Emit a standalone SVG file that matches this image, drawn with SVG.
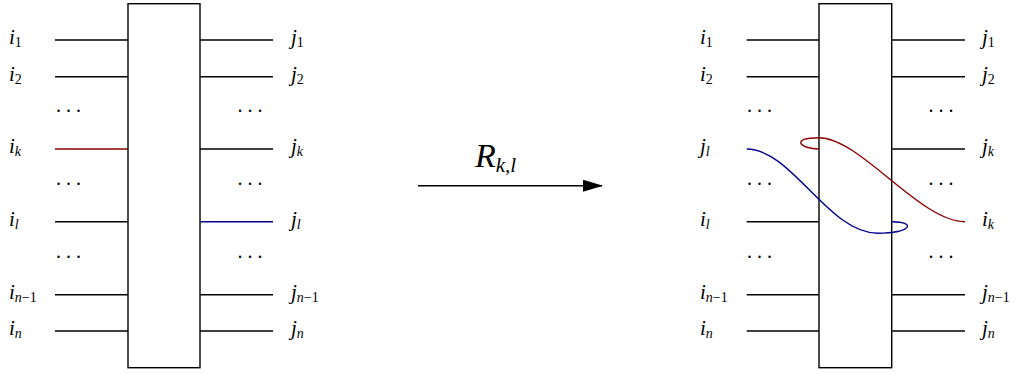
<svg xmlns="http://www.w3.org/2000/svg" width="1032" height="374" viewBox="0 0 1032 374">
<style>
.box{fill:#fff;stroke:#000;stroke-width:1.4}
.w{stroke:#000;stroke-width:1.4;fill:none}
.r{stroke:#8b0000;stroke-width:1.4;fill:none}
.b{stroke:#00008b;stroke-width:1.4;fill:none}
text,tspan{font-family:"Liberation Serif","Times New Roman",serif;fill:#000}
.m{font-style:italic;font-size:21px}
.s{font-size:14px;font-style:normal}
.si{font-size:14px;font-style:italic}
.d{font-size:20px;text-anchor:middle}
</style>
<defs>
<marker id="ah" markerWidth="20" markerHeight="12" refX="19" refY="6" orient="auto" markerUnits="userSpaceOnUse">
<path d="M0,0 L20,6 L0,12 Z" fill="#000"/>
</marker>
</defs>
<g id="connectors">
<line class="w" x1="55" y1="40" x2="128" y2="40"/>
<line class="w" x1="55" y1="76.7" x2="128" y2="76.7"/>
<line class="r" x1="55" y1="149" x2="128" y2="149"/>
<line class="w" x1="55" y1="221.7" x2="128" y2="221.7"/>
<line class="w" x1="55" y1="294.7" x2="128" y2="294.7"/>
<line class="w" x1="55" y1="331" x2="128" y2="331"/>
<line class="w" x1="200" y1="40" x2="273" y2="40"/>
<line class="w" x1="200" y1="76.7" x2="273" y2="76.7"/>
<line class="w" x1="200" y1="149" x2="273" y2="149"/>
<line class="b" x1="200" y1="221.7" x2="273" y2="221.7"/>
<line class="w" x1="200" y1="294.7" x2="273" y2="294.7"/>
<line class="w" x1="200" y1="331" x2="273" y2="331"/>
<line class="w" x1="746.7" y1="40" x2="819" y2="40"/>
<line class="w" x1="746.7" y1="76.7" x2="819" y2="76.7"/>
<line class="w" x1="746.7" y1="221.7" x2="819" y2="221.7"/>
<line class="w" x1="746.7" y1="294.7" x2="819" y2="294.7"/>
<line class="w" x1="746.7" y1="331" x2="819" y2="331"/>
<line class="w" x1="891.7" y1="40" x2="965" y2="40"/>
<line class="w" x1="891.7" y1="76.7" x2="965" y2="76.7"/>
<line class="w" x1="891.7" y1="149" x2="965" y2="149"/>
<line class="w" x1="891.7" y1="294.7" x2="965" y2="294.7"/>
<line class="w" x1="891.7" y1="331" x2="965" y2="331"/>
<path class="w" d="M418,185.7 L602,185.7" marker-end="url(#ah)"/>
</g>
<g id="box-left"><rect class="box" x="128" y="3.7" width="72" height="364"/></g>
<g id="box-right">
<rect class="box" x="819" y="3.7" width="72.7" height="364"/>
</g>
<g id="twisted-wires">
<path class="r" d="M819,149 C800,149 790,137.7 819,137.7 C860,137.7 920,221.7 965,221.7"/>
<path class="b" d="M746.7,149 C792,149 828,233.3 878,233.3 C910,233.3 918,222 891.7,221.7"/>
</g>
<g id="labels-left">
<text class="m" x="9" y="44">i<tspan class="s" dy="3">1</tspan></text>
<text class="m" x="9" y="80.7">i<tspan class="s" dy="3">2</tspan></text>
<text class="m" x="9" y="153">i<tspan class="si" dy="3">k</tspan></text>
<text class="m" x="9" y="225.7">i<tspan class="si" dy="3">l</tspan></text>
<text class="m" x="9" y="298.7">i<tspan class="si" dy="3">n</tspan><tspan class="s">−1</tspan></text>
<text class="m" x="9" y="335">i<tspan class="si" dy="3">n</tspan></text>
<text class="m" x="291" y="44">j<tspan class="s" dy="3">1</tspan></text>
<text class="m" x="291" y="80.7">j<tspan class="s" dy="3">2</tspan></text>
<text class="m" x="291" y="153">j<tspan class="si" dy="3">k</tspan></text>
<text class="m" x="291" y="225.7">j<tspan class="si" dy="3">l</tspan></text>
<text class="m" x="291" y="298.7">j<tspan class="si" dy="3">n</tspan><tspan class="s">−1</tspan></text>
<text class="m" x="291" y="335">j<tspan class="si" dy="3">n</tspan></text>
<text class="d" x="68.5" y="112">. . .</text>
<text class="d" x="68.5" y="185">. . .</text>
<text class="d" x="68.5" y="258">. . .</text>
<text class="d" x="250" y="112">. . .</text>
<text class="d" x="250" y="185">. . .</text>
<text class="d" x="250" y="258">. . .</text>
</g>
<g id="labels-right">
<text class="m" x="700" y="44">i<tspan class="s" dy="3">1</tspan></text>
<text class="m" x="700" y="80.7">i<tspan class="s" dy="3">2</tspan></text>
<text class="m" x="700" y="153">j<tspan class="si" dy="3">l</tspan></text>
<text class="m" x="700" y="225.7">i<tspan class="si" dy="3">l</tspan></text>
<text class="m" x="700" y="298.7">i<tspan class="si" dy="3">n</tspan><tspan class="s">−1</tspan></text>
<text class="m" x="700" y="335">i<tspan class="si" dy="3">n</tspan></text>
<text class="m" x="982" y="44">j<tspan class="s" dy="3">1</tspan></text>
<text class="m" x="982" y="80.7">j<tspan class="s" dy="3">2</tspan></text>
<text class="m" x="982" y="153">j<tspan class="si" dy="3">k</tspan></text>
<text class="m" x="982" y="225.7">i<tspan class="si" dy="3">k</tspan></text>
<text class="m" x="982" y="298.7">j<tspan class="si" dy="3">n</tspan><tspan class="s">−1</tspan></text>
<text class="m" x="982" y="335">j<tspan class="si" dy="3">n</tspan></text>
<text class="d" x="759.5" y="112">. . .</text>
<text class="d" x="759.5" y="185">. . .</text>
<text class="d" x="759.5" y="258">. . .</text>
<text class="d" x="941" y="112">. . .</text>
<text class="d" x="941" y="185">. . .</text>
<text class="d" x="941" y="258">. . .</text>
</g>
<g id="arrow-label">
<text x="475" y="166.5" style="font-style:italic;font-size:34px">R<tspan style="font-size:21px" dy="5">k,l</tspan></text>
</g>
</svg>
